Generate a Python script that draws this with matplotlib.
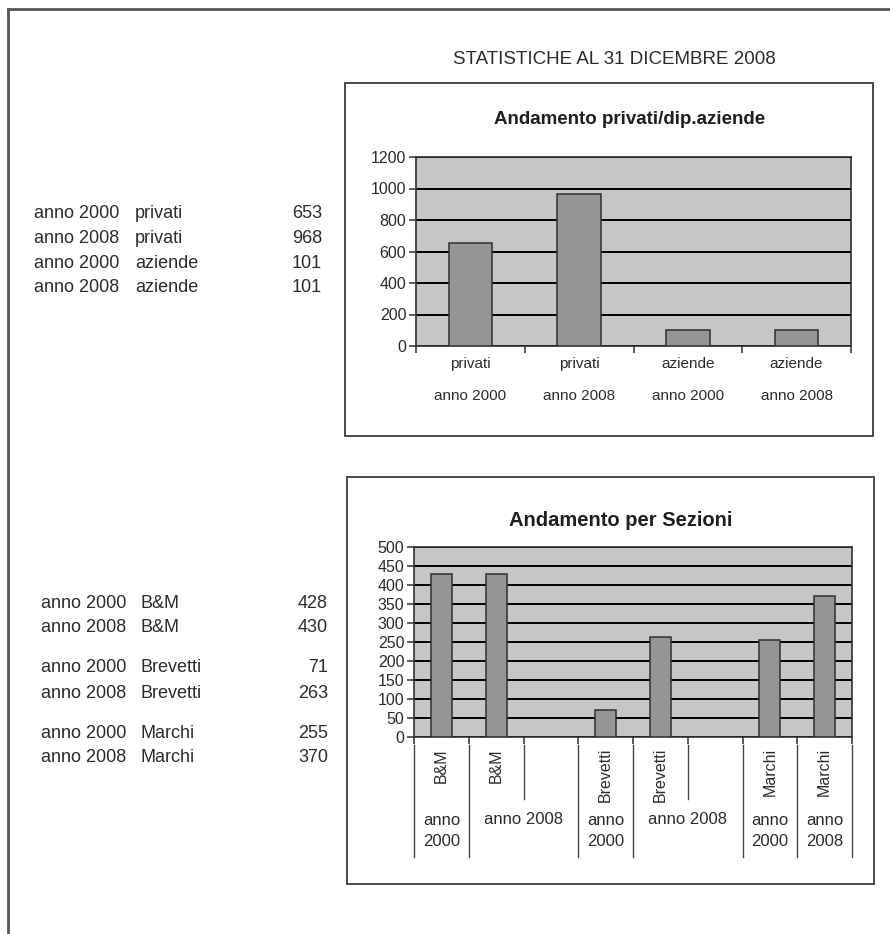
import matplotlib
matplotlib.use("Agg")
import matplotlib.pyplot as plt
from matplotlib.patches import Rectangle
from matplotlib.lines import Line2D
import matplotlib.transforms as mtransforms

plt.rcParams['font.family'] = ['Liberation Sans', 'DejaVu Sans']

# --- data ---
year_labels = ["anno 2000", "anno 2008", "anno 2000", "anno 2008"]
client_types = ["privati", "privati", "aziende", "aziende"]
client_counts = [653, 968, 101, 101]

section_years = ["anno 2000", "anno 2008", "anno 2000", "anno 2008", "anno 2000", "anno 2008"]
section_names = ["B&M", "B&M", "Brevetti", "Brevetti", "Marchi", "Marchi"]
section_counts = [428, 430, 71, 263, 255, 370]

# chart categories of the second chart (empty slots included)
sec_cats = ["B&M", "B&M", "", "Brevetti", "Brevetti", "", "Marchi", "Marchi"]
sec_vals = [428, 430, None, 71, 263, None, 255, 370]
# year groups on the second axis row: label, first slot, end slot
sec_groups = [("anno\n2000", 0, 1), ("anno 2008", 1, 3), ("anno\n2000", 3, 4),
              ("anno 2008", 4, 6), ("anno\n2000", 6, 7), ("anno\n2008", 7, 8)]

W, H = 890, 934
TXT = "#2b2b2b"
PLOT_BG = "#c6c6c6"
BAR = "#959598"
EDGE = "#303030"


def fx(x):
    return x / W


def fy(y):
    return 1 - y / H


def axes_rect(left, top, right, bottom):
    return [fx(left), fy(bottom), (right - left) / W, (bottom - top) / H]


fig = plt.figure(figsize=(W / 100, H / 100), dpi=100)
fig.patch.set_facecolor("white")

# page frame (only top and left edges fall inside the page)
fig.add_artist(Line2D([fx(8), fx(8)], [fy(9), 0], color="#555555", lw=2))
fig.add_artist(Line2D([fx(8), 1], [fy(9), fy(9)], color="#555555", lw=2))

fig.text(fx(614), fy(60), "STATISTICHE AL 31 DICEMBRE 2008", ha="center",
         va="center", fontsize=13.5, color=TXT)

# chart boxes
for (l, t, r, b) in [(345, 83, 873, 436), (347, 477, 874, 884)]:
    fig.add_artist(Rectangle((fx(l), fy(b)), (r - l) / W, (b - t) / H,
                             transform=fig.transFigure, fill=False,
                             edgecolor="#3a3a3a", lw=1.3))

# left-hand tables
rows_top = [214, 239, 264, 288]
for y, yr, ct, v in zip(rows_top, year_labels, client_types, client_counts):
    fig.text(fx(34), fy(y), yr, va="center", fontsize=13, color=TXT)
    fig.text(fx(135), fy(y), ct, va="center", fontsize=13, color=TXT)
    fig.text(fx(322), fy(y), str(v), va="center", ha="right", fontsize=13, color=TXT)

rows_bot = [603, 628, 668, 693, 733, 758]
for y, yr, nm, v in zip(rows_bot, section_years, section_names, section_counts):
    fig.text(fx(41), fy(y), yr, va="center", fontsize=13, color=TXT)
    fig.text(fx(141), fy(y), nm, va="center", fontsize=13, color=TXT)
    fig.text(fx(328), fy(y), str(v), va="center", ha="right", fontsize=13, color=TXT)


def style_axes(ax):
    ax.set_facecolor(PLOT_BG)
    ax.set_axisbelow(True)
    ax.yaxis.grid(True, color="black", lw=1.4)
    for s in ax.spines.values():
        s.set_color(EDGE)
        s.set_linewidth(1.2)
    ax.tick_params(axis="y", direction="out", length=5, width=1.1,
                   color=EDGE, labelsize=11.5, labelcolor=TXT, pad=2)


# --- chart 1: privati / aziende ---
ax1 = fig.add_axes(axes_rect(416, 157, 851, 346))
style_axes(ax1)
x1 = list(range(len(client_counts)))
ax1.bar(x1, client_counts, width=0.4, color=BAR, edgecolor=EDGE, lw=1.1, zorder=3)
ax1.set_xlim(-0.5, len(x1) - 0.5)
ax1.set_ylim(0, 1200)
ax1.set_yticks(range(0, 1201, 200))
ax1.set_xticks([i - 0.5 for i in range(len(x1) + 1)])
ax1.set_xticklabels([])
ax1.tick_params(axis="x", direction="out", length=5, width=1.1, color=EDGE)
ax1.set_xticks(x1, minor=True)
ax1.set_xticklabels(client_types, minor=True)
ax1.tick_params(axis="x", which="minor", length=0, pad=8, labelsize=11, labelcolor=TXT)
tr1 = mtransforms.blended_transform_factory(ax1.transData, ax1.transAxes)
for i, yl in enumerate(year_labels):
    ax1.text(i, -(396 - 346) / 189, yl, transform=tr1, ha="center", va="center",
             fontsize=11, color=TXT)
fig.text(fx(630), fy(119), "Andamento privati/dip.aziende", ha="center",
         va="center", fontsize=13.5, fontweight="bold", color="#1e1e1e")

# --- chart 2: sezioni ---
ax2 = fig.add_axes(axes_rect(414, 547, 852, 737))
style_axes(ax2)
x2 = [i for i, v in enumerate(sec_vals) if v is not None]
v2 = [v for v in sec_vals if v is not None]
ax2.bar(x2, v2, width=0.38, color=BAR, edgecolor=EDGE, lw=1.1, zorder=3)
ax2.set_xlim(-0.5, len(sec_cats) - 0.5)
ax2.set_ylim(0, 500)
ax2.set_yticks(range(0, 501, 50))
ax2.set_xticks([i - 0.5 for i in range(len(sec_cats) + 1)])
ax2.set_xticklabels([])
ax2.tick_params(axis="x", direction="out", length=5, width=1.1, color=EDGE)

tr2 = mtransforms.blended_transform_factory(ax2.transData, ax2.transAxes)
ph = 190.0


def ay(py):
    return -(py - 737) / ph


for i, c in enumerate(sec_cats):
    if c:
        ax2.text(i, ay(748), c, transform=tr2, rotation=90, ha="center", va="top",
                 fontsize=11.5, color=TXT)

# separators between year groups and between slots inside a group
bounds_full = sorted({g[1] for g in sec_groups} | {g[2] for g in sec_groups})
for b in range(len(sec_cats) + 1):
    y_end = ay(857) if b in bounds_full else ay(799)
    ax2.plot([b - 0.5, b - 0.5], [ay(745), y_end], transform=tr2, color="#444444",
             lw=1.0, clip_on=False)
for lab, a, b in sec_groups:
    yc = ay(831) if "\n" in lab else ay(819)
    ax2.text((a + b - 1) / 2, yc, lab, transform=tr2, ha="center", va="center",
             fontsize=12, color=TXT, linespacing=1.45)

fig.text(fx(621), fy(520), "Andamento per Sezioni", ha="center", va="center",
         fontsize=14.5, fontweight="bold", color="#1e1e1e")

fig.savefig("out.png", dpi=100)
